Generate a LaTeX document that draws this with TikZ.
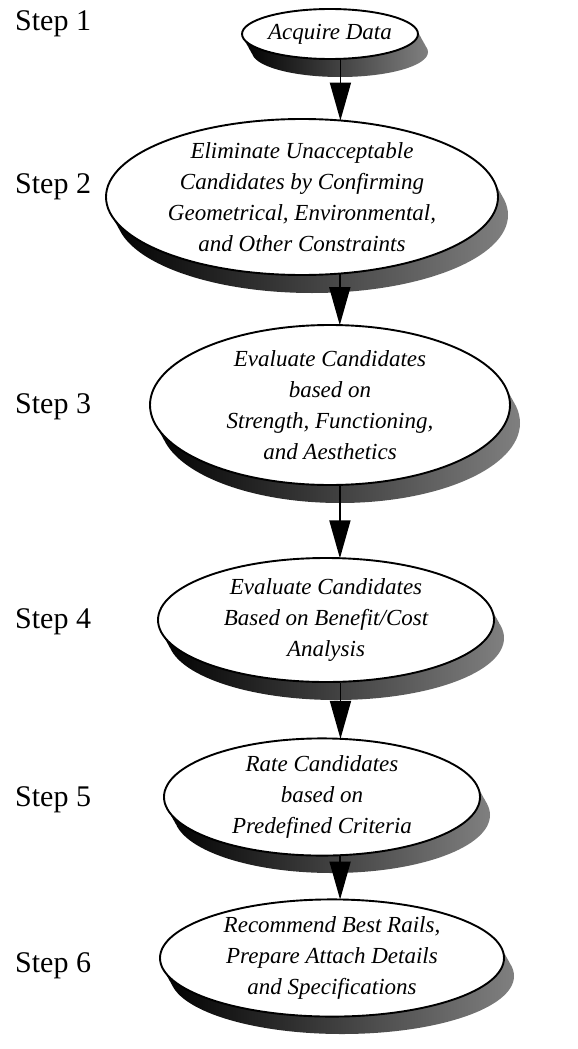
\documentclass[tikz,border=0pt]{standalone}
\usepackage{fontspec}
\setmainfont{Liberation Serif}
\usetikzlibrary{arrows.meta,shapes.geometric}

\tikzset{
  steplabel/.style={anchor=west, inner sep=0pt, font=\fontsize{30}{32}\selectfont},
  stepbox/.style={ellipse, draw=black, line width=1.9pt, fill=white, inner sep=0pt,
    align=center, font=\fontsize{23}{31}\selectfont\itshape},
  stepshadow/.style={left color=black, right color=black!50},
  flow/.style={line width=1.8pt, -{Triangle[length=38pt, width=21pt]}, shorten >=-1pt},
}

% shadow: the ellipse swept down and to the right
\newcommand\ellshadow[4]{%
  \shade[stepshadow] \foreach \t in {0.2,0.4,0.6,0.8,1} {
    (#1+10*\t,#2+18*\t) ellipse [x radius=#3, y radius=#4]};
}

\begin{document}
\begin{tikzpicture}[x=1pt, y=-1pt]
\useasboundingbox (0,0) rectangle (578,1049);

% shadows
\ellshadow{330}{34}{88}{25}
\ellshadow{302}{197}{196}{78}
\ellshadow{330}{405}{180}{80}
\ellshadow{326}{620}{168}{62}
\ellshadow{322}{797}{158}{58}
\ellshadow{332}{958}{172}{58}

% process steps
\node[stepbox, minimum width=176pt, minimum height=50pt] (e1) at (330,34) {Acquire Data};
\node[stepbox, minimum width=392pt, minimum height=156pt] (e2) at (302,197)
  {Eliminate Unacceptable\\Candidates by Confirming\\Geometrical, Environmental,\\and Other Constraints};
\node[stepbox, minimum width=360pt, minimum height=160pt] (e3) at (330,405)
  {Evaluate Candidates\\based on\\Strength, Functioning,\\and Aesthetics};
\node[stepbox, minimum width=336pt, minimum height=124pt] (e4) at (326,620)
  {Evaluate Candidates\\Based on Benefit/Cost\\Analysis};
\node[stepbox, minimum width=316pt, minimum height=116pt] (e5) at (322,797)
  {Rate Candidates\\based on\\Predefined Criteria};
\node[stepbox, minimum width=344pt, minimum height=116pt] (e6) at (332,958)
  {Recommend Best Rails,\\Prepare Attach Details\\and Specifications};

% step labels
\node[steplabel] (s1) at (15,24) {Step 1};
\node[steplabel] (s2) at (15,187) {Step 2};
\node[steplabel] (s3) at (15,407) {Step 3};
\node[steplabel] (s4) at (15,622) {Step 4};
\node[steplabel] (s5) at (15,800) {Step 5};
\node[steplabel] (s6) at (15,966) {Step 6};

% connectors, kept vertical
\draw[flow] (e1.-68) -- (e1.-68 |- e2.64);
\draw[flow] (e2.-64) -- (e2.-64 |- e3.83);
\draw[flow] (e3.-83) -- (e3.-83 |- e4.77);
\draw[flow] (e4.-77) -- (e4.-77 |- e5.73);
\draw[flow] (e5.-73) -- (e5.-73 |- e6.82);
\end{tikzpicture}
\end{document}
